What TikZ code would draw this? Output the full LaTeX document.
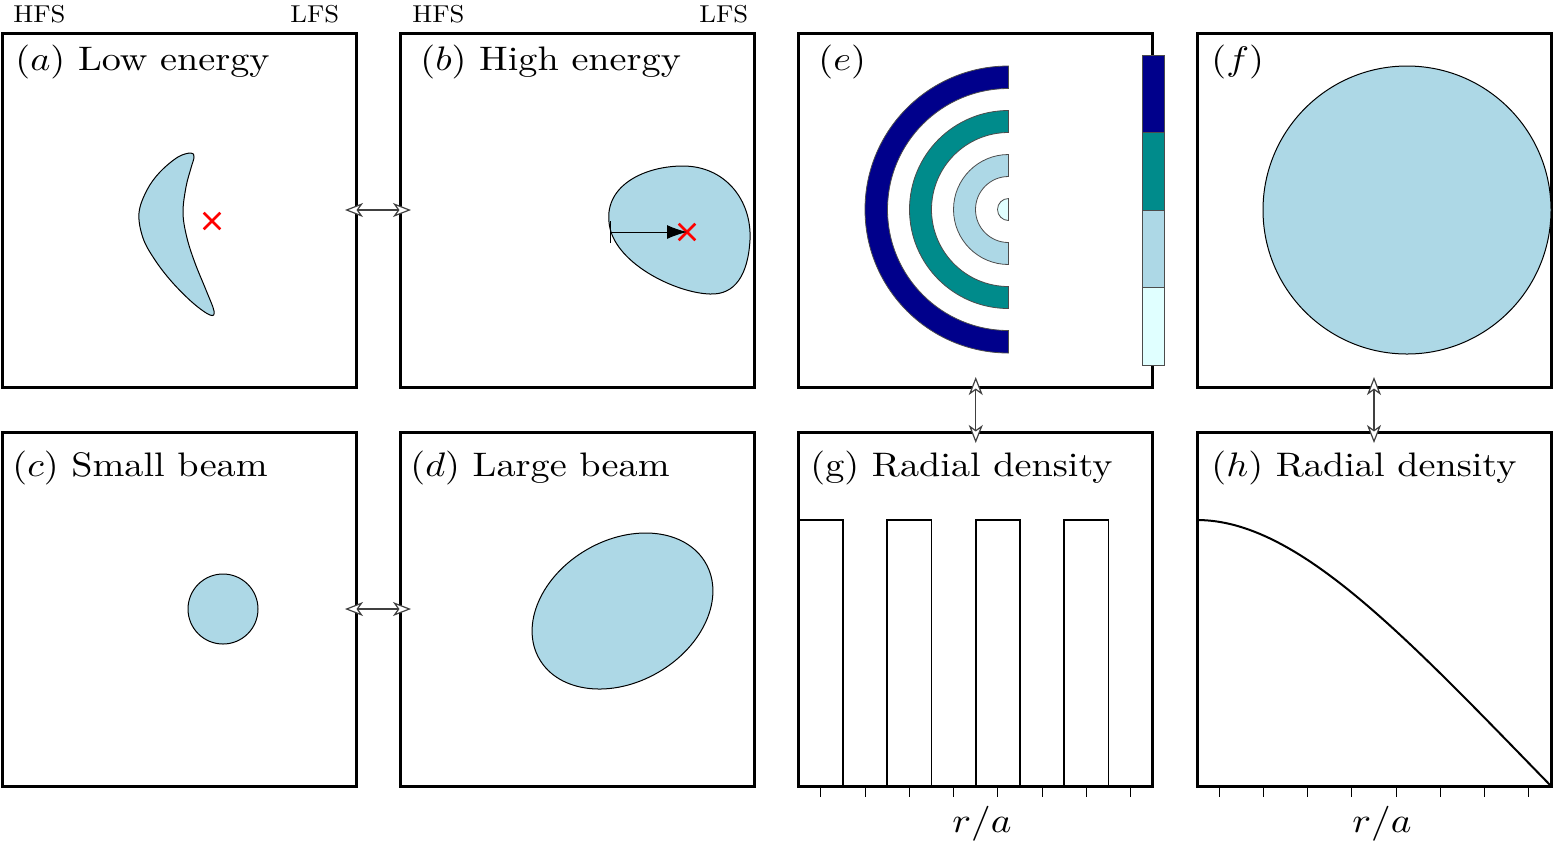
\documentclass[tikz,border=0pt]{standalone}
\usetikzlibrary{arrows.meta,shapes.misc,calc}
\definecolor{beam}{RGB}{173,216,230}
\definecolor{ringA}{RGB}{0,0,139}
\definecolor{ringB}{RGB}{0,139,139}
\definecolor{ringD}{RGB}{224,255,255}
\newcommand{\panelttl}[1]{\scalebox{1.91}[1.70]{#1}}
\newcommand{\sidettl}[1]{\scalebox{1.33}[1.22]{#1}}
\newcommand{\axttl}[1]{\scalebox{1.96}[1.75]{#1}}
\begin{document}
\begin{tikzpicture}[x=0.5pt,y=-0.5pt,
 panel/.style={draw, line width=1.5pt, minimum width=177pt, minimum height=177pt, inner sep=0pt, outer sep=0pt},
 title/.style={anchor=base west, inner sep=0pt, font=\fontsize{10}{12}\selectfont},
 side/.style={anchor=base west, inner sep=0pt, font=\fontsize{10}{12}\selectfont},
 axlab/.style={anchor=base, inner sep=0pt, font=\fontsize{10}{12}\selectfont},
 blob/.style={fill=beam, draw=black, line width=0.5pt},
 ring/.style={draw=black!70, line width=0.4pt},
 redx/.style={cross out, draw=red, line width=1.3pt, minimum size=7pt, inner sep=0pt},
 link/.style={draw=black!75, line width=0.6pt, {Stealth[length=9pt,width=7pt,inset=2.5pt,fill=white]}-{Stealth[length=9pt,width=7pt,inset=2.5pt,fill=white]}},
 tick/.style={line width=0.5pt},
 bar/.style={line width=0.8pt}
]
\useasboundingbox (0,0) rectangle (1553,843);

% panels
\node[panel] (a) at (179,210) {};
\node[panel] (b) at (577,210) {};
\node[panel] (e) at (975.75,210) {};
\node[panel] (f) at (1374,210) {};
\node[panel] (c) at (179,609) {};
\node[panel] (d) at (577,609) {};
\node[panel] (g) at (975.75,609) {};
\node[panel] (h) at (1374,609) {};

% side labels
\node[side] (hfs1) at (13,22) {\sidettl{HFS}};
\node[side] (lfs1) at (290,22) {\sidettl{LFS}};
\node[side] (hfs2) at (412,22) {\sidettl{HFS}};
\node[side] (lfs2) at (699,22) {\sidettl{LFS}};

% titles
\node[title] (ta) at (15,70) {\panelttl{$(a)$ Low energy}};
\node[title] (tb) at (420,70) {\panelttl{$(b)$ High energy}};
\node[title] (te) at (818,70) {\panelttl{$(e)$}};
\node[title] (tf) at (1211,70) {\panelttl{$(f)$}};
\node[title] (tc) at (12,476) {\panelttl{$(c)$ Small beam}};
\node[title] (td) at (410,476) {\panelttl{$(d)$ Large beam}};
\node[title] (tg) at (810,476) {\panelttl{(g) Radial density}};
\node[title] (th) at (1211,476) {\panelttl{$(h)$ Radial density}};

% (a) crescent
\draw[blob] plot[smooth cycle, tension=0.6] coordinates {
 (191,153) (178,157) (160,172) (147,190) (139,213) (143,238) (155,260)
 (172,282) (193,303) (210,315) (214,311) (206,290) (195,263) (187,238)
 (183,213) (186,187) (191,168) (194,157)};
\node[redx] (xa) at (212,221) {};

% (b) blob
\draw[blob] (609,222) .. controls (605,185) and (645,166) .. (683,166)
  .. controls (725,166) and (752,200) .. (750,240)
  .. controls (748,275) and (735,295) .. (710,294)
  .. controls (675,293) and (612,262) .. (609,222) -- cycle;
\node[redx] (xb) at (687,232) {};
\coordinate (bs) at (610,232);
\draw[line width=0.5pt, {Bar[width=11pt]}-{Latex[length=10pt,width=7pt]}] (bs) -- (xb.center);

% (c) circle
\draw[blob] (223,609) circle[radius=35];

% (d) blob
\draw[blob, rotate around={30:(622.5,611)}] (622.5,611) ellipse[x radius=96, y radius=71];

% (e) rings
\foreach \ri/\ro/\col in {121/143.5/ringA, 77/99/ringB, 33/55/beam}{
 \draw[ring, fill=\col] (1008.5,209.5-\ro) arc[start angle=270, end angle=90, radius=\ro]
   -- (1008.5,209.5+\ri) arc[start angle=90, end angle=270, radius=\ri] -- cycle;
}
\draw[ring, fill=ringD] (1008.5,198.5) arc[start angle=270, end angle=90, radius=11] -- cycle;
% colour bar
\draw[ring, fill=ringA] (1142,55) rectangle (1164,132.5);
\draw[ring, fill=ringB] (1142,132.5) rectangle (1164,210);
\draw[ring, fill=beam] (1142,210) rectangle (1164,287.5);
\draw[ring, fill=ringD] (1142,287.5) rectangle (1164,365);

% (f) circle
\draw[blob] (1407,210) circle[radius=144];

% (g) bars
\foreach \k in {0,2,4,6}{
 \draw[bar] ({798.75+44.25*\k},786) -- ({798.75+44.25*\k},520) -- ({798.75+44.25*(\k+1)},520) -- ({798.75+44.25*(\k+1)},786);
}
\foreach \k in {0,...,7}{
 \draw[tick] ({798.75+44.25*(\k+0.5)},786) -- ++(0,11);
 \draw[tick] ({1197+44.25*(\k+0.5)},786) -- ++(0,11);
}
\node[axlab] (rg) at (982,832) {\axttl{$r/a$}};
\node[axlab] (rh) at (1382,832) {\axttl{$r/a$}};

% (h) curve
\draw[line width=1pt] (1197,520) .. controls (1297,520) and (1404,635) .. (h.south east);

% links
\draw[link] ($(a.east)+(-11,0)$) -- ($(b.west)+(11,0)$);
\draw[link] ($(c.east)+(-11,0)$) -- ($(d.west)+(11,0)$);
\draw[link] ($(e.south)+(0,-10)$) -- ($(g.north)+(0,11)$);
\draw[link] ($(f.south)+(0,-10)$) -- ($(h.north)+(0,11)$);
\end{tikzpicture}
\end{document}
